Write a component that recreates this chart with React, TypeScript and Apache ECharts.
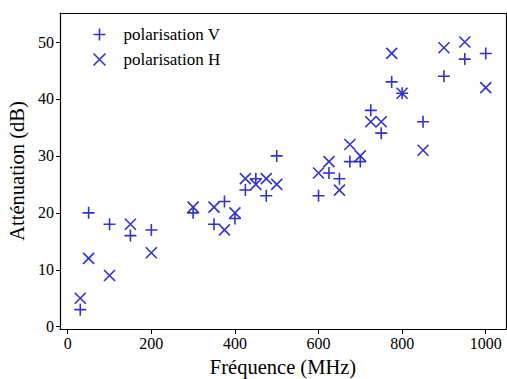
import React, { useEffect, useRef } from "react";
import * as echarts from "echarts";

const frequencies = [30, 50, 100, 150, 200, 300, 350, 375, 400, 425, 450, 475, 500, 600, 625, 650, 675, 700, 725, 750, 775, 800, 850, 900, 950, 1000];
const polarisationV = [3, 20, 18, 16, 17, 20, 18, 22, 19, 24, 26, 23, 30, 23, 27, 26, 29, 29, 38, 34, 43, 41, 36, 44, 47, 48];
const polarisationH = [5, 12, 9, 18, 13, 21, 21, 17, 20, 26, 25, 26, 25, 27, 29, 24, 32, 30, 36, 36, 48, 41, 31, 49, 50, 42];
const xTicks = [0, 200, 400, 600, 800, 1000];
const yTicks = [0, 10, 20, 30, 40, 50];

const COLOR = "#3232cc";
const FONT = "Liberation Serif";
const PLUS = "path://M5,0 L5,10 M0,5 L10,5";
const CROSS = "path://M0,0 L10,10 M0,10 L10,0";

export default function App() {
  const ref = useRef<HTMLDivElement>(null);
  useEffect(() => {
    if (!ref.current) return;
    const chart = echarts.init(ref.current, null, { renderer: "svg" });
    const markerStyle = { color: "none", borderColor: COLOR, borderWidth: 1.6, opacity: 1 };
    chart.setOption({
      animation: false,
      backgroundColor: "#ffffff",
      textStyle: { fontFamily: FONT },
      grid: { left: 60, top: 13, width: 446, height: 316, containLabel: false, outerBoundsMode: "none" },
      legend: {
        left: 86,
        top: 21,
        orient: "vertical",
        itemWidth: 12,
        itemHeight: 12,
        itemGap: 8,
        textStyle: { fontFamily: FONT, fontSize: 17, color: "#000", padding: [0, 0, 0, 13] },
        data: [
          { name: "polarisation V", icon: PLUS, itemStyle: markerStyle },
          { name: "polarisation H", icon: CROSS, itemStyle: markerStyle },
        ],
      },
      xAxis: [
        {
          type: "value",
          min: -18.5,
          max: 1048.5,
          name: "Fréquence (MHz)",
          nameLocation: "middle",
          nameGap: 27,
          nameTextStyle: { fontFamily: FONT, fontSize: 20.5, color: "#000" },
          axisLine: { show: true, onZero: false, lineStyle: { color: "#000", width: 1.2 } },
          axisTick: { show: true, length: 5, customValues: xTicks, lineStyle: { color: "#000" } },
          axisLabel: {
            customValues: xTicks,
            formatter: (v: number) => String(v),
            fontFamily: FONT,
            fontSize: 16,
            color: "#000",
            margin: 6,
          },
          splitLine: { show: false },
        },
        {
          type: "value",
          position: "top",
          min: -18.5,
          max: 1048.5,
          axisLine: { show: true, onZero: false, lineStyle: { color: "#000", width: 1.2 } },
          axisTick: { show: false },
          axisLabel: { show: false },
          splitLine: { show: false },
        },
      ],
      yAxis: [
        {
          type: "value",
          min: -0.4,
          max: 55.1,
          name: "Atténuation (dB)",
          nameLocation: "middle",
          nameGap: 25,
          nameTextStyle: { fontFamily: FONT, fontSize: 20.5, color: "#000" },
          axisLine: { show: true, onZero: false, lineStyle: { color: "#000", width: 1.2 } },
          axisTick: { show: true, length: 4, customValues: yTicks, lineStyle: { color: "#000" } },
          axisLabel: {
            customValues: yTicks,
            formatter: (v: number) => String(v),
            fontFamily: FONT,
            fontSize: 16,
            color: "#000",
            margin: 6,
          },
          splitLine: { show: false },
        },
        {
          type: "value",
          position: "right",
          min: -0.4,
          max: 55.1,
          axisLine: { show: true, onZero: false, lineStyle: { color: "#000", width: 1.2 } },
          axisTick: { show: false },
          axisLabel: { show: false },
          splitLine: { show: false },
        },
      ],
      series: [
        {
          name: "polarisation V",
          type: "scatter",
          symbol: PLUS,
          symbolSize: 12,
          itemStyle: markerStyle,
          data: frequencies.map((f, i) => [f, polarisationV[i]]),
        },
        {
          name: "polarisation H",
          type: "scatter",
          symbol: CROSS,
          symbolSize: 11,
          itemStyle: markerStyle,
          data: frequencies.map((f, i) => [f, polarisationH[i]]),
        },
      ],
    });
    return () => chart.dispose();
  }, []);
  return <div ref={ref} style={{ position: "fixed", left: 0, top: 0, width: 507, height: 379 }} />;
}
